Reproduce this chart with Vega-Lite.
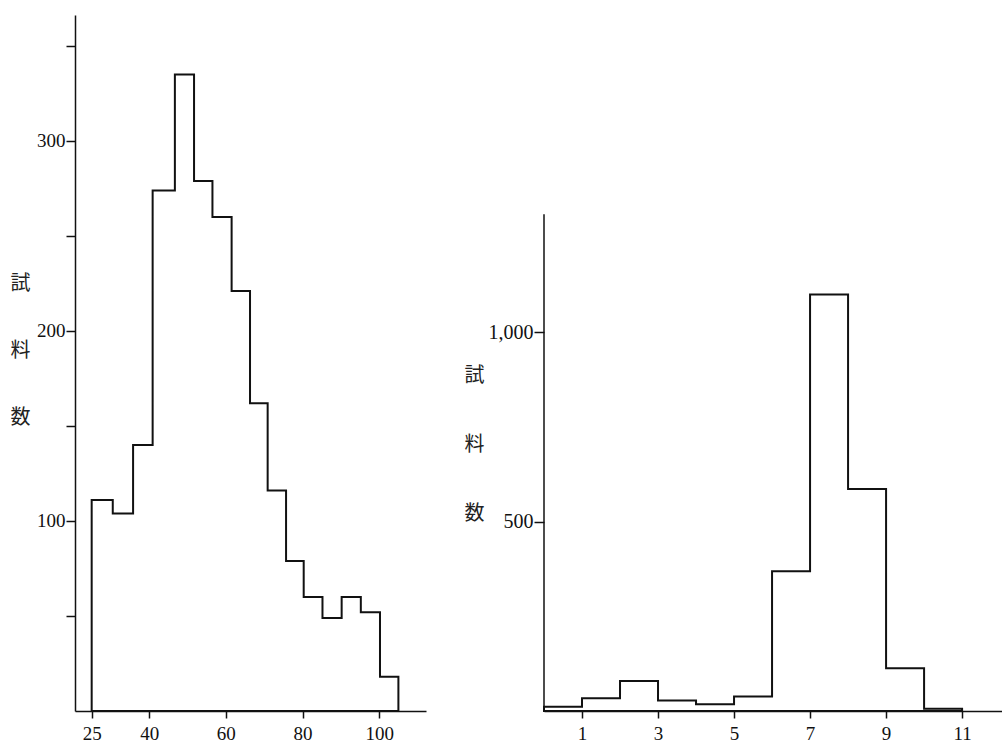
{
  "$schema": "https://vega.github.io/schema/vega-lite/v6.json",
  "background": "white",
  "padding": {"left": 10, "top": 15, "right": 0, "bottom": 0},
  "bounds": "flush",
  "spacing": 118,
  "datasets": {
    "left": [
      {"lo": 25, "hi": 30.5, "n": 111},
      {"lo": 30.5, "hi": 35.8, "n": 104},
      {"lo": 35.8, "hi": 40.9, "n": 140},
      {"lo": 40.9, "hi": 46.7, "n": 274},
      {"lo": 46.7, "hi": 51.7, "n": 335},
      {"lo": 51.7, "hi": 56.5, "n": 279},
      {"lo": 56.5, "hi": 61.5, "n": 260},
      {"lo": 61.5, "hi": 66.3, "n": 221},
      {"lo": 66.3, "hi": 70.9, "n": 162},
      {"lo": 70.9, "hi": 75.7, "n": 116},
      {"lo": 75.7, "hi": 80.3, "n": 79},
      {"lo": 80.3, "hi": 85.2, "n": 60},
      {"lo": 85.2, "hi": 90.2, "n": 49},
      {"lo": 90.2, "hi": 95.2, "n": 60},
      {"lo": 95.2, "hi": 100.2, "n": 52},
      {"lo": 100.2, "hi": 105, "n": 18}
    ],
    "right": [
      {"lo": 0, "hi": 1, "n": 11},
      {"lo": 1, "hi": 2, "n": 34},
      {"lo": 2, "hi": 3, "n": 79},
      {"lo": 3, "hi": 4, "n": 28},
      {"lo": 4, "hi": 5, "n": 18},
      {"lo": 5, "hi": 6, "n": 38},
      {"lo": 6, "hi": 7, "n": 369},
      {"lo": 7, "hi": 8, "n": 1100},
      {"lo": 8, "hi": 9, "n": 586},
      {"lo": 9, "hi": 10, "n": 113},
      {"lo": 10, "hi": 11, "n": 6}
    ]
  },
  "config": {
    "view": {"stroke": null},
    "axis": {
      "grid": false,
      "domainColor": "#111",
      "domainWidth": 1.5,
      "tickColor": "#111",
      "tickWidth": 1.5,
      "labelFont": "Liberation Serif",
      "labelFontSize": 19,
      "labelColor": "#111",
      "titleFont": "Noto Sans CJK JP",
      "titleFontWeight": "normal",
      "titleColor": "#222",
      "titleFontSize": 20
    }
  },
  "hconcat": [
    {
      "width": 351,
      "height": 696,
      "data": {"name": "left"},
      "transform": [{"fold": ["lo", "hi"], "as": ["side", "edge"]}],
      "mark": {"type": "area", "interpolate": "linear", "fillOpacity": 0, "stroke": "#111", "strokeWidth": 2},
      "encoding": {
        "x": {
          "field": "edge", "type": "quantitative",
          "scale": {"domain": [20.65, 112.2], "nice": false, "zero": false},
          "axis": {"values": [25, 40, 60, 80, 100], "title": null, "tickSize": 7, "labelPadding": 6}
        },
        "y": {
          "field": "n", "type": "quantitative", "stack": null,
          "scale": {"domain": [0, 366.3], "nice": false},
          "axis": {
            "values": [50, 100, 150, 200, 250, 300, 350],
            "labelExpr": "datum.value % 100 == 0 ? datum.label : ''",
            "tickSize": 9, "labelPadding": 1,
            "title": ["試", "料", "数"],
            "titleAngle": 0, "titleX": -55, "titleY": 258,
            "titleAlign": "center", "titleBaseline": "top", "titleLineHeight": 67
          }
        }
      }
    },
    {
      "width": 458,
      "height": 696,
      "layer": [
        {
          "data": {"name": "right"},
          "transform": [{"fold": ["lo", "hi"], "as": ["side", "edge"]}],
          "mark": {"type": "area", "interpolate": "linear", "fillOpacity": 0, "stroke": "#111", "strokeWidth": 2},
          "encoding": {
            "x": {
              "field": "edge", "type": "quantitative",
              "scale": {"domain": [0, 12.05], "nice": false, "zero": false},
              "axis": {"values": [1, 3, 5, 7, 9, 11], "title": null, "tickSize": 7, "labelPadding": 6}
            },
            "y": {
              "field": "n", "type": "quantitative", "stack": null,
              "scale": {"domain": [0, 1838], "nice": false},
              "axis": {
                "values": [500, 1000],
                "format": ",d",
                "domain": false,
                "labelFontSize": 20,
                "tickSize": 10, "labelPadding": 1,
                "title": ["試", "料", "数"],
                "titleAngle": 0, "titleX": -70, "titleY": 350,
                "titleAlign": "center", "titleBaseline": "top", "titleLineHeight": 69
              }
            }
          }
        },
        {
          "data": {"values": [{}]},
          "mark": {"type": "rule", "stroke": "#111", "strokeWidth": 1.5},
          "encoding": {
            "x": {"datum": 0},
            "y": {"datum": 0},
            "y2": {"datum": 1312}
          }
        }
      ]
    }
  ]
}
